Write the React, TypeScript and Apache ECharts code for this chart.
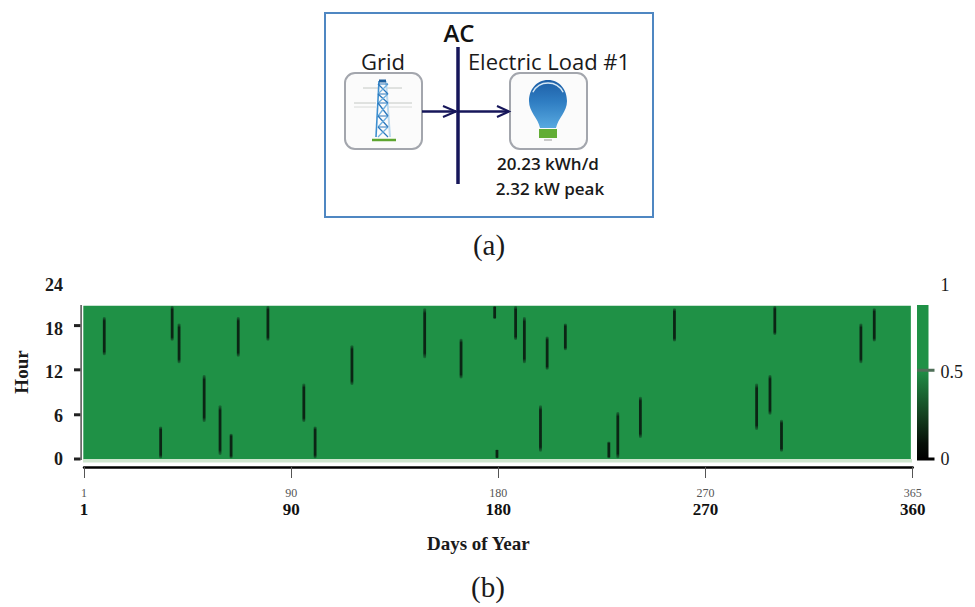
import React, { useEffect, useRef } from "react";
import * as echarts from "echarts";

// Heat map: outage streaks (x axis runs 0..360 as drawn)
const outageDay = [8.8, 33.3, 38.3, 41.3, 52.2, 59.1, 63.9, 67, 79.9, 95.5, 100.4, 116.4, 148, 163.8, 178.4, 179.4, 187.5, 191.3, 198.3, 201.2, 209.1, 228, 231.9, 241.7, 256.5, 292.2, 298, 300.1, 303, 337.5, 343.3];
const outageStart = [14.3, 0.1, 16.3, 13.2, 5.1, 0.55, 0.1, 14.1, 16.3, 5.1, 0.1, 10.2, 13.9, 11.1, 19.3, 0.1, 16.4, 13.2, 1, 12.3, 15, 0.1, 0.1, 2.9, 16.2, 4, 6.1, 17.1, 1, 13.2, 16.2];
const outageEnd = [19.6, 4.5, 21.1, 18.7, 11.6, 7.4, 3.5, 19.6, 21.1, 10.4, 4.5, 15.7, 20.8, 16.6, 21.1, 1.3, 21.1, 19.6, 7.4, 16.9, 18.7, 2.4, 6.5, 8.6, 20.8, 10.4, 11.6, 21.1, 5.4, 18.7, 20.8];
const hourTicks = [0, 6, 12, 18, 24];
const hourTickMarks = [0, 6.1, 12.3, 18.4];
const colorbarTickMarks = [0, 0.51];
const topHourShown = 21.15;
const colorbarTop = 0.885;
const xTicks = [0, 90, 180, 270, 360];
const upperDayLabels = ["1", "90", "180", "270", "365"];
const lowerDayLabels = ["1", "90", "180", "270", "360"];

// Schematic (a)
const gridLabel = "Grid";
const busLabel = "AC";
const loadLabel = "Electric Load #1";
const loadEnergy = "20.23 kWh/d";
const loadPeak = "2.32 kW peak";

const SERIF = '"Liberation Serif", serif';
const SANS = '"Open Sans", "Noto Sans", sans-serif';
const NAVY = "#16165a";

echarts.graphic.registerShape(
  "bulbShape",
  echarts.graphic.extendPath(
    "M548 80 C560 80 567 90 567 101 C567 112 558 118 556 128 L540 128 C538 118 529 112 529 101 C529 90 536 80 548 80 Z",
    {}
  )
);

const seg = (x1: number, y1: number, x2: number, y2: number, stroke: string, lineWidth: number) => ({
  type: "line",
  shape: { x1, y1, x2, y2 },
  style: { stroke, lineWidth },
  silent: true,
});
const box = (x: number, y: number, width: number, height: number, fill: string) => ({
  type: "rect",
  z: 20,
  shape: { x, y, width, height },
  style: { fill },
  silent: true,
});
const label = (text: string, x: number, y: number, font: string, fill = "#1a1a1a", align = "center") => ({
  type: "text",
  x,
  y,
  style: { text, font, fill, align, verticalAlign: "middle" },
});

function towerLines() {
  const blue = "#3d8fd0";
  const pale = "#bcd9ee";
  const out: any[] = [];
  out.push(seg(363, 88, 378, 88, "#c4c8c4", 1), seg(387, 88, 402, 88, "#c4c8c4", 1));
  out.push(seg(354, 103, 376, 103, "#c4c8c4", 1), seg(389, 103, 412, 103, "#c4c8c4", 1));
  out.push(seg(354, 107, 376, 107, "#d8dad8", 1), seg(389, 107, 412, 107, "#d8dad8", 1));
  out.push(seg(379, 81, 376, 137, blue, 1.6), seg(386, 81, 390, 137, pale, 2));
  out.push(seg(379, 81, 386, 81, "#1d5f9e", 3));
  const rows = [84, 94, 103, 116, 127, 137];
  rows.forEach((y, i) => {
    if (i === rows.length - 1) return;
    const y2 = rows[i + 1];
    out.push(seg(378, y, 388, y2, "#2a78bd", 1.3), seg(388, y, 378, y2, "#6fb0df", 1.3));
    out.push(seg(378, y, 388, y, "#2a78bd", 1));
  });
  out.push(seg(372, 140, 396, 140, "#5da52f", 2.5));
  return out;
}

function diagram(): any[] {
  return [
    box(80.4, 305, 1.4, 155, "#444"),
    box(83, 459, 829, 3.5, "#cfe6cf"),
    { type: "rect", shape: { x: 325, y: 13, width: 328, height: 204 }, style: { fill: "#fff", stroke: "#4f87c2", lineWidth: 2 } },
    { type: "rect", shape: { x: 345, y: 73, width: 77, height: 76, r: 10 }, style: { fill: "#fbfbfb", stroke: "#a3a6ad", lineWidth: 2 } },
    { type: "rect", shape: { x: 510, y: 73, width: 77, height: 76, r: 10 }, style: { fill: "#fbfbfb", stroke: "#a3a6ad", lineWidth: 2 } },
    ...towerLines(),
    {
      type: "bulbShape",
      style: {
        fill: new echarts.graphic.LinearGradient(0, 0, 0, 1, [
          { offset: 0, color: "#1d5ea6" },
          { offset: 0.45, color: "#2f7dc2" },
          { offset: 1, color: "#58a9e0" },
        ]),
      },
    },
    { type: "arc", shape: { cx: 548, cy: 100, r: 17, startAngle: Math.PI * 1.15, endAngle: Math.PI * 1.85 }, style: { stroke: "#d6e8f5", lineWidth: 1.4, fill: "none" } },
    { type: "rect", shape: { x: 539, y: 129, width: 18, height: 9 }, style: { fill: "#62ad35" } },
    { type: "rect", shape: { x: 544, y: 139, width: 8, height: 2 }, style: { fill: "#c9c9c9" } },
    seg(458, 47, 458, 184, NAVY, 3.5),
    seg(422, 111.5, 456, 111.5, NAVY, 2.5),
    { type: "polyline", shape: { points: [[443, 106], [456, 111.5], [443, 117]] }, style: { stroke: NAVY, lineWidth: 2, fill: "none" } },
    seg(458, 111.5, 508, 111.5, NAVY, 2.5),
    { type: "polyline", shape: { points: [[497, 106], [509, 111.5], [497, 117]] }, style: { stroke: NAVY, lineWidth: 2, fill: "none" } },
    label(busLabel, 459, 32, `600 24px ${SANS}`, "#111"),
    label(gridLabel, 383, 61, `400 22px ${SANS}`),
    label(loadLabel, 549, 61, `400 22px ${SANS}`),
    label(loadEnergy, 548, 163, `600 17px ${SANS}`),
    label(loadPeak, 550, 188, `600 17px ${SANS}`),
    label("(a)", 489, 245, `400 29px ${SERIF}`),
    label("(b)", 488, 587, `400 29px ${SERIF}`),
  ];
}

export default function App() {
  const ref = useRef<HTMLDivElement>(null);
  useEffect(() => {
    const chart = echarts.init(ref.current!, undefined, { renderer: "svg" });
    const streakFill = new echarts.graphic.LinearGradient(0, 0, 0, 1, [
      { offset: 0, color: "rgba(14,50,28,0.35)" },
      { offset: 0.1, color: "#0b2414" },
      { offset: 0.9, color: "#0b2414" },
      { offset: 1, color: "rgba(14,50,28,0.35)" },
    ]);
    const barFill = new echarts.graphic.LinearGradient(0, 0, 0, 1, [
      { offset: 0, color: "#1f9146" },
      { offset: 0.42, color: "#1f9146" },
      { offset: 0.5, color: "#1d7a3c" },
      { offset: 0.72, color: "#14401f" },
      { offset: 0.9, color: "#060f08" },
      { offset: 1, color: "#000" },
    ]);
    const option: any = {
      animation: false,
      backgroundColor: "#fff",
      grid: [
        { left: 84, width: 828.7, top: 285, height: 174 },
        { left: 917, width: 11.5, top: 285, height: 174 },
      ],
      xAxis: [
        {
          gridIndex: 0,
          type: "value",
          position: "bottom",
          min: 0,
          max: 360,
          interval: 90,
          offset: 8,
          splitLine: { show: false },
          axisLine: { show: true, onZero: false, lineStyle: { color: "#000", width: 2.5 } },
          axisTick: { show: true, length: 11, lineStyle: { color: "#555", width: 1 } },
          axisLabel: {
            margin: 20,
            fontFamily: SERIF,
            fontSize: 12,
            color: "#555",
            showMinLabel: true,
            showMaxLabel: true,
            formatter: (v: number) => upperDayLabels[xTicks.indexOf(v)] ?? "",
          },
        },
        {
          gridIndex: 0,
          type: "value",
          position: "bottom",
          min: 0,
          max: 360,
          interval: 90,
          splitLine: { show: false },
          axisLine: { show: false, onZero: false },
          axisTick: { show: false },
          axisLabel: {
            margin: 42,
            fontFamily: SERIF,
            fontSize: 17,
            fontWeight: 600,
            color: "#111",
            showMinLabel: true,
            showMaxLabel: true,
            formatter: (v: number) => lowerDayLabels[xTicks.indexOf(v)] ?? "",
          },
          name: "Days of Year",
          nameLocation: "middle",
          nameGap: 75,
          nameTextStyle: { fontFamily: SERIF, fontSize: 19, fontWeight: "bold", color: "#1a1a1a", padding: [0, 40, 0, 0] },
        },
        { gridIndex: 1, type: "value", position: "bottom", min: 0, max: 1, show: false },
      ],
      yAxis: [
        {
          gridIndex: 0,
          type: "value",
          position: "left",
          min: 0,
          max: 24,
          interval: 6,
          splitLine: { show: false },
          axisLine: { show: false, onZero: false },
          axisTick: { show: false },
          axisLabel: {
            margin: 21,
            fontFamily: SERIF,
            fontSize: 18,
            fontWeight: 600,
            color: "#1a1a1a",
            customValues: hourTicks,
          },
          name: "Hour",
          nameLocation: "middle",
          nameGap: 53,
          nameTextStyle: { fontFamily: SERIF, fontSize: 19, fontWeight: "bold", color: "#1a1a1a" },
        },
        {
          gridIndex: 1,
          type: "value",
          position: "right",
          min: 0,
          max: 1,
          interval: 0.5,
          splitLine: { show: false },
          axisLine: { show: false, onZero: false },
          axisTick: { show: false },
          axisLabel: { margin: 12, fontFamily: SERIF, fontSize: 18, color: "#1a1a1a" },
        },
      ],
      series: [
        {
          type: "custom",
          name: "Grid available",
          xAxisIndex: 0,
          yAxisIndex: 0,
          clip: false,
          data: [[-0.3, 359.2, topHourShown]],
          encode: { x: [0, 1], y: 2 },
          renderItem: (_: any, api: any) => {
            const a = api.coord([api.value(0), api.value(2)]);
            const b = api.coord([api.value(1), 0]);
            return {
              type: "rect",
              shape: { x: a[0], y: a[1], width: b[0] - a[0], height: b[1] - a[1] },
              style: { fill: "#1f9146" },
            };
          },
        },
        {
          type: "custom",
          name: "Grid outage",
          xAxisIndex: 0,
          yAxisIndex: 0,
          z: 3,
          clip: false,
          data: outageDay.map((d, i) => [d, outageStart[i], outageEnd[i]]),
          encode: { x: 0, y: [1, 2] },
          renderItem: (_: any, api: any) => {
            const a = api.coord([api.value(0), api.value(2)]);
            const b = api.coord([api.value(0), api.value(1)]);
            return {
              type: "rect",
              shape: { x: a[0] - 1.4, y: a[1], width: 2.8, height: b[1] - a[1], r: 1 },
              style: { fill: streakFill },
            };
          },
        },
        {
          type: "custom",
          name: "Colour bar",
          xAxisIndex: 2,
          yAxisIndex: 1,
          clip: false,
          data: [[0, 1, colorbarTop]],
          encode: { x: [0, 1], y: 2 },
          renderItem: (_: any, api: any) => {
            const a = api.coord([api.value(0), api.value(2)]);
            const b = api.coord([api.value(1), 0]);
            return {
              type: "rect",
              shape: { x: a[0], y: a[1], width: b[0] - a[0], height: b[1] - a[1] },
              style: { fill: barFill },
            };
          },
        },
      ],
    };
    chart.setOption(option);
    // Tick marks placed through the axes' own scales, above the series.
    const tickMarks: any[] = [];
    hourTickMarks.forEach((h) => {
      const y = chart.convertToPixel({ yAxisIndex: 0 }, h) as number;
      tickMarks.push(box(74, y - 1.5, 6.5, 3, "#222"));
    });
    colorbarTickMarks.forEach((v) => {
      const y = chart.convertToPixel({ yAxisIndex: 1 }, v) as number;
      const base = v === 0;
      tickMarks.push(box(917, y - 1.5, 17.5, 3, base ? "#000" : "#4f6f58"));
    });
    chart.setOption({ graphic: { elements: [...tickMarks, ...diagram()] } });
    return () => chart.dispose();
  }, []);
  return <div ref={ref} style={{ position: "absolute", left: 0, top: 0, width: 975, height: 607 }} />;
}
